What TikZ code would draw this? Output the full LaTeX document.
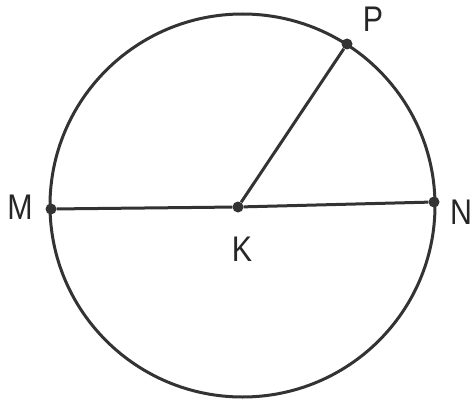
\documentclass[tikz,border=0pt]{standalone}
\usepackage{fontspec}
\setmainfont{Liberation Sans}
\begin{document}
\begin{tikzpicture}[x=1pt,y=-1pt,
  ln/.style={line width=3pt,draw=black!80},
  pt/.style={circle,fill=black!80,inner sep=0pt,minimum size=11pt},
  lab/.style={font=\fontsize{33}{33}\selectfont,text=black!85,inner sep=0pt,yscale=1.08,xscale=0.92}]
\useasboundingbox (0,0) rectangle (474,404);
\draw[ln] (242.5,205.5) ellipse [x radius=192.5, y radius=191.5];
\node[pt] (M) at (51,209) {};
\node[pt] (N) at (434,202) {};
\node[pt] (K) at (238,207) {};
\node[pt] (P) at (347,44) {};
\draw[ln] (M) -- (K);
\draw[ln] (K) -- (N);
\draw[ln] (K) -- (P);
\node[lab] (lM) at (20,207) {M};
\node[lab] (lN) at (461,212) {N};
\node[lab] (lK) at (242,249) {K};
\node[lab] (lP) at (373,19) {P};
\end{tikzpicture}
\end{document}
